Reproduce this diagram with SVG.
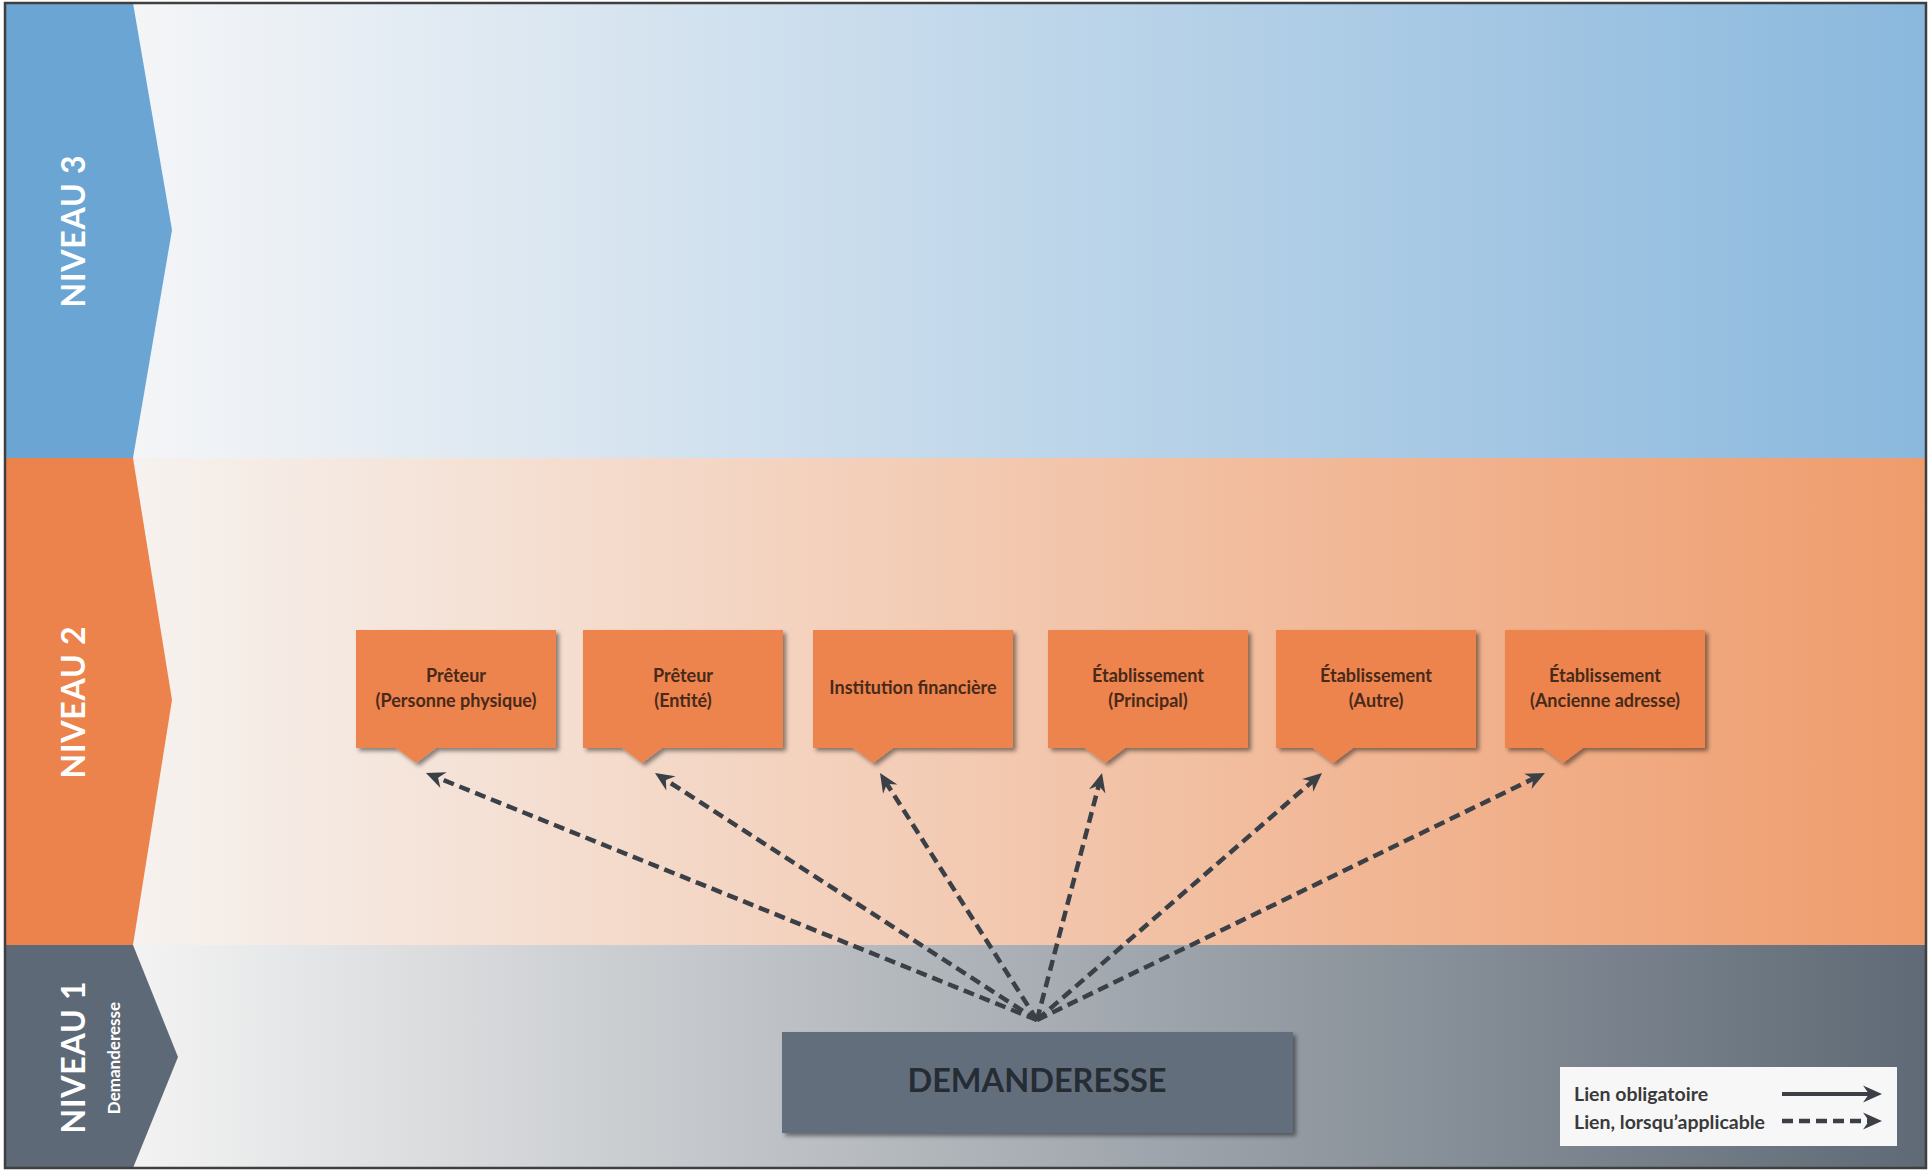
<svg xmlns="http://www.w3.org/2000/svg" width="1929" height="1171" viewBox="0 0 1929 1171">
<defs>
<linearGradient id="g3" gradientUnits="userSpaceOnUse" x1="130" y1="0" x2="1926" y2="0">
<stop offset="0" stop-color="#f4f5f7"/><stop offset="1" stop-color="#8ab8dd"/>
</linearGradient>
<linearGradient id="g2" gradientUnits="userSpaceOnUse" x1="130" y1="0" x2="1926" y2="0">
<stop offset="0" stop-color="#f6f2ef"/><stop offset="1" stop-color="#ef9c6c"/>
</linearGradient>
<linearGradient id="g1" gradientUnits="userSpaceOnUse" x1="130" y1="0" x2="1926" y2="0">
<stop offset="0" stop-color="#f3f3f3"/><stop offset="1" stop-color="#5f6a76"/>
</linearGradient>
<filter id="sh" x="-10%" y="-10%" width="130%" height="140%">
<feDropShadow dx="3" dy="3" stdDeviation="2" flood-color="#000" flood-opacity="0.45"/>
</filter>
<marker id="ah" viewBox="-12 -10 22 20" refX="0" refY="0" markerWidth="22" markerHeight="20" markerUnits="userSpaceOnUse" orient="auto">
<path d="M8,0 L-11,-8.5 L-5,0 L-11,8.5 Z" fill="#3b4047"/>
</marker>
<style>
.lvl{font-family:Lato,"Open Sans","Liberation Sans",sans-serif;font-weight:bold;fill:#ffffff;}
.bt{font-family:Lato,"Open Sans","Liberation Sans",sans-serif;font-weight:bold;font-size:18px;fill:#48291a;text-anchor:middle;}
.box{fill:#ed844d;filter:url(#sh);}
.con{fill:none;stroke:#3b4047;stroke-width:4.5;stroke-dasharray:11 6;marker-end:url(#ah);}
.sol{fill:none;stroke:#3b4047;stroke-width:4;marker-end:url(#ah);}
.lg{font-family:Lato,"Open Sans","Liberation Sans",sans-serif;font-weight:bold;font-size:19.5px;fill:#3a3a3a;}
</style>
</defs>

<g id="bands">
<rect x="5" y="3" width="1921" height="455" fill="url(#g3)"/>
<rect x="5" y="458" width="1921" height="487" fill="url(#g2)"/>
<rect x="5" y="945" width="1921" height="223" fill="url(#g1)"/>
</g>

<g id="niveau3">
<polygon points="5,3 133,3 172,230 133,458 5,458" fill="#6aa5d3"/>
<text class="lvl" font-size="32" letter-spacing="0.8" text-anchor="middle" transform="translate(85,231) rotate(-90)">NIVEAU 3</text>
</g>
<g id="niveau2">
<polygon points="5,458 133,458 172,700 133,945 5,945" fill="#ec834c"/>
<text class="lvl" font-size="32" letter-spacing="0.8" text-anchor="middle" transform="translate(85,702) rotate(-90)">NIVEAU 2</text>
</g>
<g id="niveau1">
<polygon points="5,945 133,945 178,1057 133,1168 5,1168" fill="#5d6977"/>
<text class="lvl" font-size="32" letter-spacing="0.8" text-anchor="middle" transform="translate(85,1057) rotate(-90)">NIVEAU 1</text>
<text class="lvl" font-size="17" text-anchor="middle" transform="translate(120,1058) rotate(-90)">Demanderesse</text>
</g>

<g id="connectors">
<line class="con" x1="1037" y1="1020" x2="433.4" y2="776"/>
<line class="con" x1="1037" y1="1020" x2="661.7" y2="777.3"/>
<line class="con" x1="1037" y1="1020" x2="884.3" y2="779.8"/>
<line class="con" x1="1037" y1="1020" x2="1100" y2="780.7"/>
<line class="con" x1="1037" y1="1020" x2="1316" y2="778.2"/>
<line class="con" x1="1037" y1="1020" x2="1537.8" y2="776.5"/>
</g>

<g id="n-preteur-pp">
<path class="box" d="M356,630 H556 V748 H436 L416,763 L396,748 H356 Z"/>
<text class="bt" x="456" y="682">Prêteur</text>
<text class="bt" x="456" y="707">(Personne physique)</text>
</g>
<g id="n-preteur-entite">
<path class="box" d="M583,630 H783 V748 H662 L642,763 L622,748 H583 Z"/>
<text class="bt" x="683" y="682">Prêteur</text>
<text class="bt" x="683" y="707">(Entité)</text>
</g>
<g id="n-institution">
<path class="box" d="M813,630 H1013 V748 H893 L873,763 L853,748 H813 Z"/>
<text class="bt" x="913" y="694">Institution financière</text>
</g>
<g id="n-etab-principal">
<path class="box" d="M1048,630 H1248 V748 H1125 L1105,763 L1085,748 H1048 Z"/>
<text class="bt" x="1148" y="682">Établissement</text>
<text class="bt" x="1148" y="707">(Principal)</text>
</g>
<g id="n-etab-autre">
<path class="box" d="M1276,630 H1476 V748 H1353 L1333,763 L1313,748 H1276 Z"/>
<text class="bt" x="1376" y="682">Établissement</text>
<text class="bt" x="1376" y="707">(Autre)</text>
</g>
<g id="n-etab-ancienne">
<path class="box" d="M1505,630 H1705 V748 H1583 L1563,763 L1543,748 H1505 Z"/>
<text class="bt" x="1605" y="682">Établissement</text>
<text class="bt" x="1605" y="707">(Ancienne adresse)</text>
</g>

<g id="n-demanderesse">
<rect x="782" y="1032" width="511" height="101" fill="#636e7b" filter="url(#sh)"/>
<text x="1037" y="1092" text-anchor="middle" font-family="Lato,'Open Sans','Liberation Sans',sans-serif" font-weight="bold" font-size="32.5" fill="#262c33">DEMANDERESSE</text>
</g>

<g id="legend">
<rect x="1560" y="1067" width="337" height="79" fill="#f7f7f7"/>
<text class="lg" x="1574" y="1101">Lien obligatoire</text>
<text class="lg" x="1574" y="1129">Lien, lorsqu’applicable</text>
<line class="sol" x1="1782" y1="1094" x2="1874" y2="1094"/>
<line class="con" x1="1782" y1="1121" x2="1874" y2="1121" stroke-dasharray="9 5"/>
</g>

<rect x="5" y="3" width="1921" height="1165" fill="none" stroke="#3f3f3f" stroke-width="2.5"/>
</svg>
